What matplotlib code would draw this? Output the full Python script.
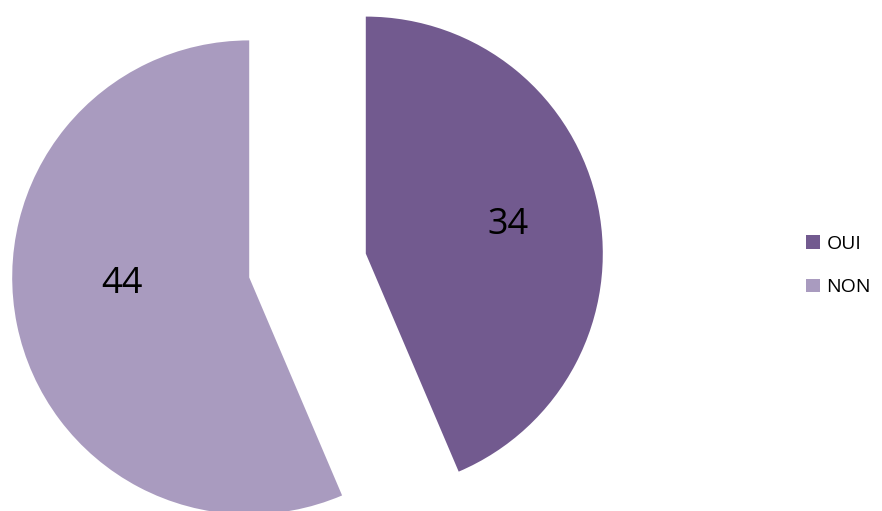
import matplotlib.pyplot as plt

# donnees
categories = ['OUI', 'NON']
valeurs = [34, 44]
couleurs = ['#725A8F', '#A99BBF']

plt.rcParams['font.family'] = ['Open Sans', 'DejaVu Sans']

fig = plt.figure(figsize=(8.82, 5.11), dpi=100)
ax = fig.add_axes([0, 0, 1, 1])

# explode en unites de donnees (pixels ici)
parts, textes, nombres = ax.pie(valeurs, colors=couleurs, startangle=90, counterclock=False,
                                explode=[59.5, 59.5], radius=237, center=(307.5, 245.5),
                                autopct=lambda p: '{:.0f}'.format(p * sum(valeurs) / 100),
                                pctdistance=0.6, textprops={'fontsize': 26, 'color': 'black'},
                                wedgeprops={'linewidth': 0}, frame=True)
# etiquette NON un peu plus haut, comme dans Excel
x, y = nombres[1].get_position()
nombres[1].set_position((x + 12, y + 22))
x, y = nombres[0].get_position()
nombres[0].set_position((x + 3, y))

ax.set_xlim(0, 882)
ax.set_ylim(0, 511)
ax.set_aspect('equal')
ax.axis('off')

ax.legend(parts, categories, loc='center left', bbox_to_anchor=(0.905, 0.48),
          frameon=False, fontsize=14, handlelength=0.7, handleheight=0.7,
          handletextpad=0.35, labelspacing=1.3, borderaxespad=0)

plt.savefig('out.png', dpi=100)
